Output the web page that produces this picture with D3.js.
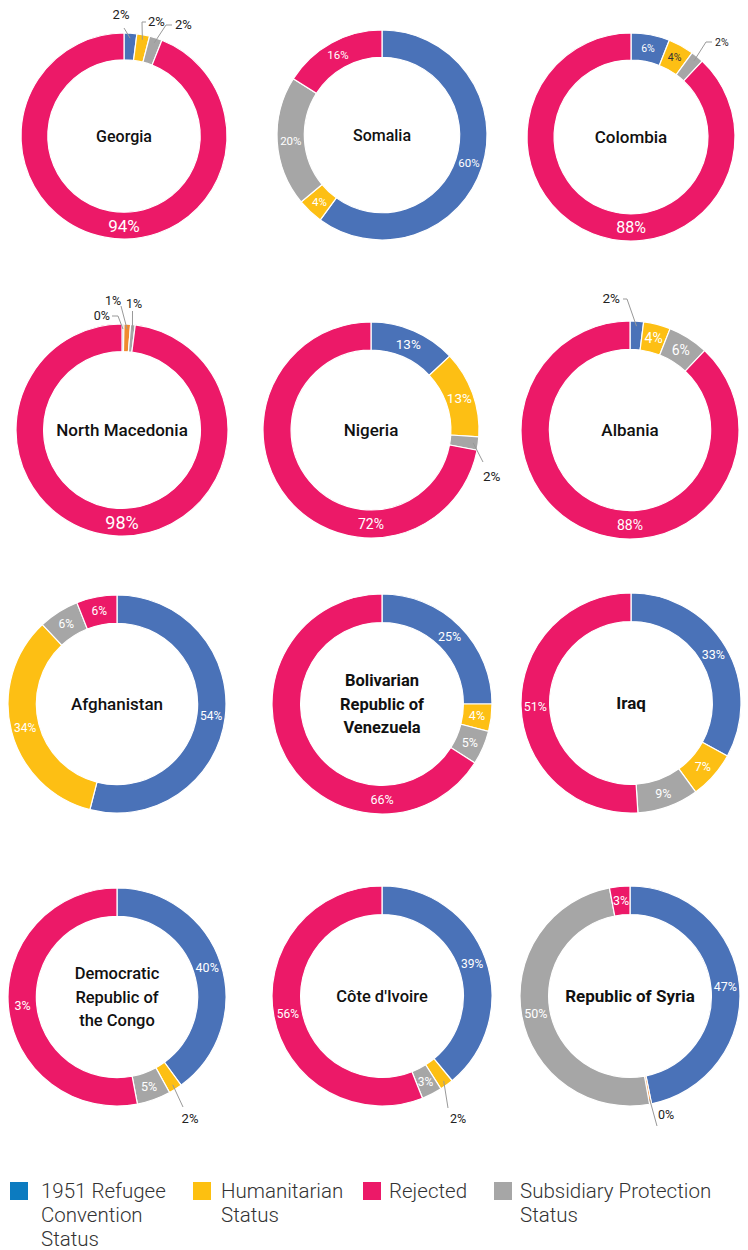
<!DOCTYPE html>
<html lang="en">
<head>
<meta charset="utf-8">
<title>Asylum decisions by country of origin</title>
<script src="https://d3js.org/d3.v7.min.js"></script>
<style>
  body { margin: 0; background: #fff; }
  svg { display: block; font-family: Roboto, "DejaVu Sans", sans-serif; }
</style>
</head>
<body>
<div id="chart"></div>
<script>
// data: share of decisions (%), slices run clockwise from 12 o'clock
var countries = ["Georgia", "Somalia", "Colombia", "North Macedonia", "Nigeria", "Albania",
  "Afghanistan", "Bolivarian Republic of Venezuela", "Iraq",
  "Democratic Republic of the Congo", "Côte d'Ivoire", "Republic of Syria"];
var titleLines = [["Georgia"], ["Somalia"], ["Colombia"], ["North Macedonia"], ["Nigeria"], ["Albania"],
  ["Afghanistan"], ["Bolivarian", "Republic of", "Venezuela"], ["Iraq"],
  ["Democratic", "Republic of", "the Congo"], ["Côte d'Ivoire"], ["Republic of Syria"]];
var refugee      = [2, 60, 6, 0.3, 13, 2, 54, 25, 33, 40, 39, 47];
var humanitarian = [2, 4, 4, 1, 13, 4, 34, 4, 7, 2, 2, 0.3];
var subsidiary   = [2, 20, 2, 0.7, 2, 6, 6, 5, 9, 5, 3, 50];
var rejected     = [94, 16, 88, 98, 72, 88, 6, 66, 51, 53, 56, 3];
// label as printed in the original (DRC rejected reads "3%")
var misprints = [["Democratic Republic of the Congo", "rejected", "3%"]];

var keys = ["refugee", "humanitarian", "subsidiary", "rejected"];
var legendKeys = ["refugee", "humanitarian", "rejected", "subsidiary"];
var legendLabels = [["1951 Refugee", "Convention", "Status"], ["Humanitarian", "Status"], ["Rejected"], ["Subsidiary Protection", "Status"]];

var colors = { refugee: "#4a72b8", humanitarian: "#fdbf14", subsidiary: "#a6a6a6", rejected: "#ec1968" };
var legendColors = { refugee: "#0c7bc0", humanitarian: "#fdc010", subsidiary: "#a6a6a6", rejected: "#ec1968" };
var orangeCharts = ["North Macedonia", "Republic of Syria"];

// layout: centre x, centre y, outer radius, inside label size, big label size, outside label size, title size, title weight
var layout = [
  [124, 136, 103, 12, 17, 13, 16, 500], [382, 135, 105, 11.5, 11.5, 12, 16, 500], [631, 137, 104, 10.5, 16, 10.5, 17, 500],
  [122, 430, 106, 12, 18, 12.5, 17, 500], [371, 430, 108, 13.5, 14, 13.5, 17, 500], [630, 430, 109, 14, 14, 13.5, 17, 500],
  [117, 704, 109, 12, 12, 12, 17, 500], [382, 704, 110, 12.5, 12.5, 12, 16.5, 700], [631, 703, 110, 12.5, 12.5, 12, 17, 700],
  [117, 997, 109, 12.5, 12.5, 13, 16.5, 500], [382, 996, 110, 12, 12, 12.5, 16.5, 500], [630, 996, 110, 12.5, 12.5, 12.5, 17, 700]
];
// leader lines for small slices: elbow points and text position relative to centre
var outside = [
  { c: 0, k: "refugee", pts: [[0, -108]], t: [-3, -117], a: "middle" },
  { c: 0, k: "humanitarian", pts: [[18, -114], [22, -114]], t: [24, -110], a: "start" },
  { c: 0, k: "subsidiary", pts: [[42, -111], [48, -111]], t: [51, -107], a: "start" },
  { c: 2, k: "subsidiary", pts: [[75, -95], [81, -95]], t: [84, -91], a: "start" },
  { c: 3, k: "refugee", pts: [[-4, -114], [-10, -114]], t: [-12, -110], a: "end" },
  { c: 3, k: "humanitarian", pts: [[-1, -124]], t: [-9, -125], a: "middle" },
  { c: 3, k: "subsidiary", pts: [[10.5, -119]], t: [12, -122], a: "middle" },
  { c: 4, k: "subsidiary", pts: [[112, 32]], t: [112, 51], a: "start" },
  { c: 5, k: "refugee", pts: [[-3, -131], [-7, -131]], t: [-10, -127], a: "end" },
  { c: 9, k: "humanitarian", pts: [[66, 110]], t: [73, 126], a: "middle" },
  { c: 10, k: "humanitarian", pts: [[66, 112]], t: [76, 127], a: "middle" },
  { c: 11, k: "humanitarian", pts: [[27, 130]], t: [28, 123], a: "start" }
];
var darkLabels = [["Colombia", "humanitarian"]];

var w = 748, h = 1250;
var svg = d3.select("#chart").append("svg")
  .attr("width", w).attr("height", h)
  .attr("viewBox", "0 0 " + w + " " + h);

var series = { refugee: refugee, humanitarian: humanitarian, subsidiary: subsidiary, rejected: rejected };
var pie = d3.pie().sort(null).value(function(d) { return d.value; });

countries.forEach(function(name, i) {
  var L = layout[i];
  var r = L[2], ri = r * 0.74, rm = (r + ri) / 2;
  var arc = d3.arc().innerRadius(ri).outerRadius(r);
  var data = keys.map(function(k) { return { key: k, value: series[k][i] }; });
  var arcs = pie(data);

  var g = svg.append("g").attr("transform", "translate(" + L[0] + "," + L[1] + ")");

  g.selectAll("path.slice")
    .data(arcs)
    .enter()
    .append("path")
    .attr("class", "slice")
    .attr("d", arc)
    .attr("fill", function(d) {
      if (d.data.key == "humanitarian" && orangeCharts.indexOf(name) >= 0) return "#f08a2e";
      return colors[d.data.key];
    })
    .attr("stroke", "#fff")
    .attr("stroke-width", 1.2);

  function labelText(d) {
    var m = misprints.find(function(p) { return p[0] == name && p[1] == d.data.key; });
    return m ? m[2] : Math.round(d.data.value) + "%";
  }

  // labels inside the ring
  g.selectAll("text.in")
    .data(arcs.filter(function(d) { return d.data.value >= 2.5; }))
    .enter()
    .append("text")
    .attr("class", "in")
    .attr("transform", function(d) {
      if (d.data.key == "rejected" && d.data.value >= 60) return "translate(0," + rm + ")";
      return "translate(" + arc.centroid(d) + ")";
    })
    .attr("text-anchor", "middle")
    .attr("dy", "0.36em")
    .attr("font-size", function(d) { return (d.data.key == "rejected" && d.data.value >= 60) ? L[4] : L[3]; })
    .attr("fill", function(d) {
      var dark = darkLabels.some(function(p) { return p[0] == name && p[1] == d.data.key; });
      return dark ? "#333" : "#fff";
    })
    .text(labelText);

  // small slices get a leader line
  outside.filter(function(o) { return o.c == i; }).forEach(function(o) {
    var d = arcs[keys.indexOf(o.k)];
    var a = (d.startAngle + d.endAngle) / 2, rs = r - 5;
    var pts = [[rs * Math.sin(a), -rs * Math.cos(a)]].concat(o.pts);
    g.append("path")
      .attr("d", d3.line()(pts))
      .attr("fill", "none")
      .attr("stroke", "#999")
      .attr("stroke-width", 1);
    g.append("text")
      .attr("x", o.t[0]).attr("y", o.t[1])
      .attr("text-anchor", o.a)
      .attr("font-size", L[5])
      .attr("fill", "#222")
      .text(labelText(d));
  });

  // country name
  var lines = titleLines[i], lh = 23.5;
  g.append("text")
    .attr("text-anchor", "middle")
    .attr("font-size", L[6])
    .attr("font-weight", L[7])
    .attr("fill", "#111")
    .selectAll("tspan")
    .data(lines)
    .enter()
    .append("tspan")
    .attr("x", 0)
    .attr("y", function(d, j) { return (j - (lines.length - 1) / 2) * lh; })
    .attr("dy", "0.36em")
    .text(function(d) { return d; });
});

// legend
var legendX = [10, 193, 363, 494];
var legendTextX = [41, 221, 389, 520];
var lg = svg.append("g").attr("transform", "translate(0,1182)");
legendKeys.forEach(function(k, j) {
  lg.append("rect")
    .attr("x", legendX[j]).attr("y", 0)
    .attr("width", 18).attr("height", 18)
    .attr("fill", legendColors[k]);
  lg.append("text")
    .attr("font-size", 20.5)
    .attr("font-weight", 300)
    .attr("fill", "#333")
    .selectAll("tspan")
    .data(legendLabels[j])
    .enter()
    .append("tspan")
    .attr("x", legendTextX[j])
    .attr("y", function(d, n) { return 16 + n * 24; })
    .text(function(d) { return d; });
});
</script>
</body>
</html>
